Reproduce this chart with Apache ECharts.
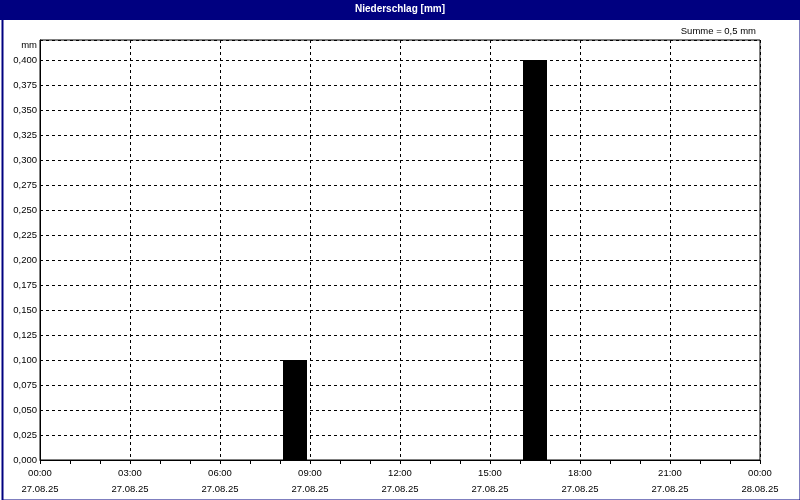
<!DOCTYPE html>
<html><head><meta charset="utf-8">
<script src="https://cdn.jsdelivr.net/npm/echarts@6/dist/echarts.min.js"></script>
<style>html,body{margin:0;padding:0;background:#fff}#c{width:800px;height:500px}</style>
</head><body><div id="c"></div>
<script>
const hours = ['00:30','01:30','02:30','03:30','04:30','05:30','06:30','07:30','08:30','09:30','10:30','11:30','12:30','13:30','14:30','15:30','16:30','17:30','18:30','19:30','20:30','21:30','22:30','23:30'];
const values = [0,0,0,0,0,0,0,0,0.1,0,0,0,0,0,0,0,0.4,0,0,0,0,0,0,0];
const xTickLabels = ['00:00\n27.08.25','03:00\n27.08.25','06:00\n27.08.25','09:00\n27.08.25','12:00\n27.08.25','15:00\n27.08.25','18:00\n27.08.25','21:00\n27.08.25','00:00\n28.08.25'];
const titleText = 'Niederschlag [mm]';
const sumText = 'Summe = 0,5 mm';
const yUnit = 'mm';

function toHours(s){const p=s.split(':');return +p[0]+(+p[1])/60;}
const data = hours.map((h,i)=>[toHours(h), values[i]]).filter(d=>d[1]>0);
const FONT = 'Liberation Sans';
const chart = echarts.init(document.getElementById('c'), null, {renderer:'canvas'});
chart.setOption({
  animation:false,
  backgroundColor:'#ffffff',
  grid:{left:40,right:40,top:40,bottom:40,show:true,borderColor:'#000',borderWidth:1,containLabel:false},
  xAxis:{type:'value',min:0,max:24,interval:3,
    axisLine:{show:true,onZero:false,lineStyle:{color:'#000',width:1}},
    axisTick:{show:true,length:4,lineStyle:{color:'#000'}},
    minorTick:{show:true,splitNumber:3,length:4,lineStyle:{color:'#000'}},
    splitLine:{show:true,lineStyle:{color:'#000',type:[3,3],width:1}},
    axisLabel:{color:'#000',fontFamily:FONT,fontSize:9.5,lineHeight:16,margin:5,
      formatter:(v)=>xTickLabels[Math.round(v/3)]||''}
  },
  yAxis:{type:'value',min:0,max:0.42,interval:0.025,
    name:yUnit,nameLocation:'end',nameGap:0,
    nameTextStyle:{color:'#000',fontFamily:FONT,fontSize:9.5,align:'right',verticalAlign:'top',padding:[0,3,0,0]},
    axisLine:{show:true,lineStyle:{color:'#000'}},
    axisTick:{show:false},
    splitLine:{show:true,lineStyle:{color:'#000',type:[3,3],width:1}},
    axisLabel:{color:'#000',fontFamily:FONT,fontSize:9.5,margin:3,
      formatter:(v)=> v>0.4001?'':v.toFixed(3).replace('.',',')}
  },
  series:[{type:'bar',data:data,barWidth:24,itemStyle:{color:'#000'},silent:true}],
  graphic:[
    {type:'rect',left:0,top:0,shape:{width:800,height:20},style:{fill:'#000080'},z:100},
    {type:'text',left:'center',top:4,style:{text:titleText,fill:'#fff',font:'bold 10px '+FONT},z:101},
    {type:'rect',left:0,top:0,shape:{x:1,y:1,width:798,height:498},style:{fill:'none',stroke:'#000080',lineWidth:2},z:100},
    {type:'text',right:44,top:26,style:{text:sumText,fill:'#000',font:'9.5px '+FONT},z:101}
  ]
});
</script></body></html>
